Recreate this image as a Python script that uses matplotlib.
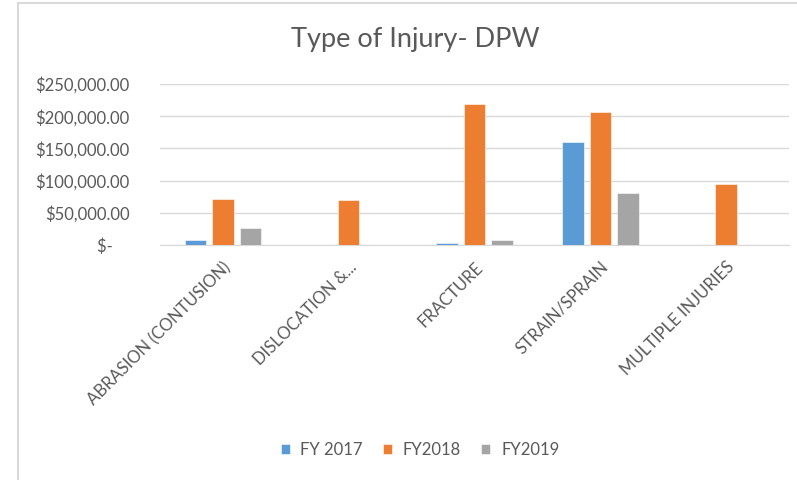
import matplotlib.pyplot as plt
import matplotlib.patches as patches
import numpy as np
from matplotlib.ticker import FuncFormatter

plt.rcParams['font.family'] = ['Lato', 'DejaVu Sans']

# data
categories = ['ABRASION (CONTUSION)', 'DISLOCATION &...', 'FRACTURE',
              'STRAIN/SPRAIN', 'MULTIPLE INJURIES']
fy2017 = [7800, 0, 2500, 159500, 0]
fy2018 = [71000, 69400, 219500, 206500, 94300]
fy2019 = [26400, 0, 8200, 80700, 0]
series_names = ['FY 2017', 'FY2018', 'FY2019']
colors = ['#5B9BD5', '#ED7D31', '#A5A5A5']

fig = plt.figure(figsize=(7.97, 4.8), dpi=100)
ax = fig.add_axes([160/797, 1-245/480, (789-160)/797, (245-84)/480])

x = np.arange(len(categories))
step = 0.219
w = 0.171
for j, (vals, name) in enumerate(zip([fy2017, fy2018, fy2019], series_names)):
    ax.bar(x + (j-1)*step, vals, width=w, color=colors[j], label=name,
           edgecolor='#FFFFFF', linewidth=0.4, zorder=3)

ax.set_xlim(-0.5, len(categories)-0.5)
ax.set_ylim(0, 250000)
ax.set_yticks(np.arange(0, 250001, 50000))

def money(v, pos):
    if v == 0:
        return '$-    '
    return '${:,.2f}'.format(v)

ax.yaxis.set_major_formatter(FuncFormatter(money))
ax.grid(axis='y', color='#D9D9D9', linewidth=1, zorder=0)
for s in ['top', 'right', 'left']:
    ax.spines[s].set_visible(False)
ax.spines['bottom'].set_color('#D9D9D9')
ax.tick_params(axis='y', length=0, pad=22, labelsize=12, labelcolor='#595959')
ax.tick_params(axis='x', length=0, pad=10, labelsize=12, labelcolor='#595959')
ax.set_xticks(x)
ax.set_xticklabels(categories, rotation=45, ha='right', va='top',
                   rotation_mode='anchor')

fig.text(415/797, 1-40/480, 'Type of Injury- DPW', ha='center', va='center',
         fontsize=19.5, color='#595959')

ax.legend(loc='center', bbox_to_anchor=(420/797, 1-450/480),
          bbox_transform=fig.transFigure, ncol=3, frameon=False,
          fontsize=12, labelcolor='#595959', handlelength=0.55,
          handleheight=0.55, handletextpad=0.65, columnspacing=1.2)

fig.patches.append(patches.Rectangle((18/797, -0.1), 1.0, 1-3/480+0.1,
                                     transform=fig.transFigure, fill=False,
                                     edgecolor='#D9D9D9', linewidth=1.5))

fig.savefig('out.png', dpi=100)
